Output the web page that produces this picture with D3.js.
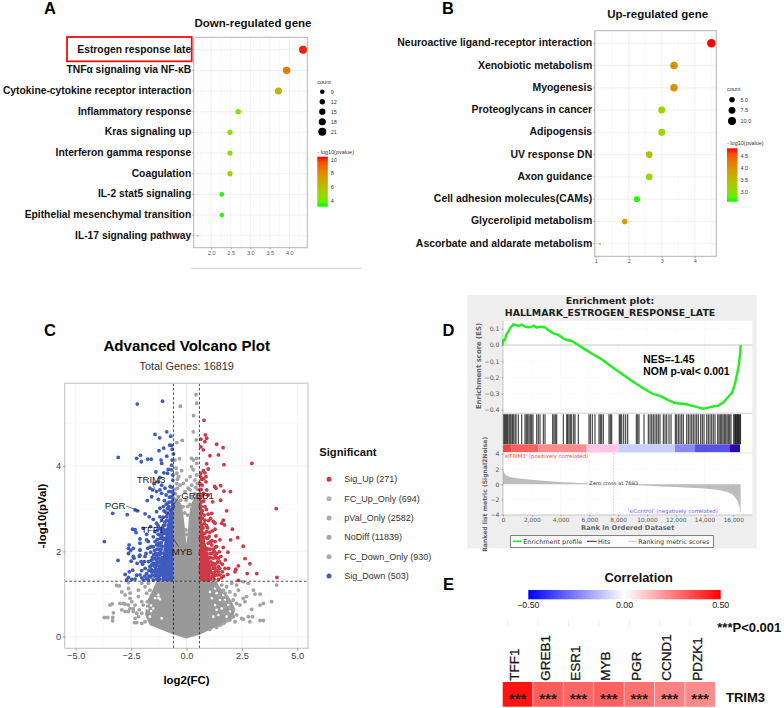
<!DOCTYPE html>
<html>
<head>
	<meta charset="UTF-8">
	<title>TRIM3 enrichment figure</title>
	<script src="https://cdnjs.cloudflare.com/ajax/libs/d3/7.8.5/d3.min.js"></script>
	<style>
html, body {
	margin:0;padding:0;background:#fff;
}
text {
	font-family: "Liberation Sans", Arial, sans-serif;
}
.java text, text.java {
	font-family: "DejaVu Sans", sans-serif;
}
	</style>
</head>
<body>
<script>
// panel A
const downTerms = ['Estrogen response late', 'TNFα signaling via NF-κB', 'Cytokine-cytokine receptor interaction', 'Inflammatory response', 'Kras signaling up', 'Interferon gamma response', 'Coagulation', 'IL-2 stat5 signaling', 'Epithelial mesenchymal transition', 'IL-17 signaling pathway'];
const downRatio = [4.35, 3.93, 3.72, 2.69, 2.48, 2.48, 2.48, 2.27, 2.27, 1.65];
const downCount = [21, 19, 18, 12, 11, 11, 11, 9, 9, 3];
const downLogP = [10.3, 8.6, 6.6, 4.4, 4.5, 4.4, 5.4, 3.2, 3.2, 4.2];
const downCountTicks = [9, 12, 15, 18, 21];
const downLogPTicks = [4, 6, 8, 10];

// panel B
const upTerms = ['Neuroactive ligand-receptor interaction', 'Xenobiotic metabolism', 'Myogenesis', 'Proteoglycans in cancer', 'Adipogensis', 'UV response DN', 'Axon guidance', 'Cell adhesion molecules(CAMs)', 'Glycerolipid metabolism', 'Ascorbate and aldarate metabolism'];
const upRatio = [4.5, 3.37, 3.37, 3.0, 3.0, 2.62, 2.62, 2.25, 1.88, 1.13];
const upCount = [11, 9, 9, 8, 8, 7, 7, 6, 5, 2];
const upLogP = [4.82, 4.0, 4.0, 3.2, 3.2, 3.45, 3.1, 2.62, 3.85, 2.8];
const upCountTicks = [5, 7.5, 10];
const upLogPTicks = [3, 3.5, 4, 4.5];

// panel C as log2(FC), -log10(p)
const sigDown = [[-2.22,5.45],[-1.08,5.52],[-1.42,4.74],[-.89,4.8],[-1.21,4.66],[-.71,4.7],[-3.08,4.2],[-2.08,4.25],[-2.25,4.18],[-2.04,4.1],[-1.75,4.16],[-1.59,4.16],[-1.24,4.36],[-1.03,4.42],[-.76,4.49],[-.67,4.48],[-1.15,4.14],[-.89,4.23],[-.65,4.39],[-.59,4.28],[-1.12,4.06],[-.65,4.14],[-.67,4.02],[-.82,3.92],[-1.38,3.86],[-1.02,3.84],[-.86,3.83],[-.67,3.91],[-.62,3.79],[-1.2,3.73],[-1.65,3.48],[-1.53,3.44],[-1.45,3.59],[-1.27,3.63],[-1.12,3.55],[-1.2,3.44],[-.97,3.48],[-.74,3.52],[-.62,3.67],[-1.35,3.4],[-1.12,3.36],[-.92,3.32],[-.7,3.4],[-1.57,3.28],[-1.77,3.19],[-1.27,3.22],[-1,3.19],[-.77,3.27],[-.59,3.36],[-2.22,2.95],[-2.32,2.97],[-3.33,2.89],[-2.67,2.86],[-1.87,2.88],[-1.68,2.81],[-1.35,2.93],[-1.2,3.01],[-1.05,3.05],[-.86,3.13],[-.67,3.16],[-1.5,2.75],[-1.2,2.81],[-.97,2.93],[-.74,2.97],[-.59,3.05],[-2.43,2.52],[-2.32,2.51],[-2.28,2.44],[-3.71,2.23],[-1.95,2.54],[-1.62,2.58],[-1.35,2.66],[-1.12,2.73],[-.89,2.81],[-.67,2.85],[-1.8,2.4],[-1.42,2.46],[-1.2,2.54],[-.97,2.62],[-.74,2.7],[-2.59,2.15],[-2.62,2.07],[-2.52,2.02],[-2.1,2.19],[-1.72,2.23],[-1.5,2.34],[-1.2,2.38],[-.89,2.5],[-3.09,1.79],[-2.37,1.84],[-2.1,2.03],[-2.1,1.91],[-1.83,1.95],[-1.5,2.11],[-1.27,2.19],[-1.05,2.27],[-2.77,1.46],[-2.62,1.39],[-2.43,1.56],[-2.47,1.34],[-2.32,1.35],[-1.87,1.6],[-2.02,1.55],[-2.1,1.45],[-1.95,1.33],[-1.72,1.76],[-1.57,2.11],[-1.42,2.23],[-1.65,1.64],[-1.5,1.72],[-1.42,1.84],[-1.27,1.95],[-1.2,2.19],[-1.8,1.48],[-1.57,1.52],[-1.38,1.6],[-1.12,1.72],[-.97,1.88],[-1.72,1.33],[-1.5,1.33],[-1.27,1.41],[-1.12,1.52],[-2.62,1.95],[-2.4,2.07],[-2.1,2.29],[-2.1,2.03],[-1.8,2.27],[-1.75,2.07],[-2.4,1.88],[-2.13,1.88],[-1.87,1.88],[-1.9,1.76],[-1.15,2.05],[-1.1,1.85],[-1.05,1.62],[-1.2,1.5],[-1.3,1.75],[-1.3,1.5],[-1.35,1.35],[-1.2,1.35],[-1.4,1.95],[-1.1,2.4],[-1,2.5],[-1.05,2.6],[-.9,2.9],[-.8,3.05],[-1.25,2.05],[-1.45,1.65],[-1.55,1.85],[-1,1.4],[-1.05,1.35],[-1.15,1.65],[-1,2.3],[-1.62,1.4],[-1.55,1.45],[-1.45,1.42],[-1.38,1.48],[-1.3,1.42],[-1.25,1.33],[-1.18,1.44],[-1.6,1.58],[-1.5,1.55],[-1.44,1.52],[-1.34,1.56],[-1.22,1.6],[-1.17,1.55],[-1.58,1.68],[-1.44,1.72],[-1.36,1.68],[-1.25,1.66],[-1.18,1.74],[-1.6,1.78],[-1.52,1.82],[-1.36,1.8],[-1.26,1.84],[-1.18,1.8],[-1.48,1.92],[-1.34,1.9],[-1.2,1.92],[-1.12,1.96],[-1.62,1.98],[-1.44,2.02],[-1.33,2.05],[-1.18,2.02],[-1.1,2.12],[-1.65,2.1],[-1.35,2.15],[-1.24,2.14],[-1.14,2.2],[-1.32,2.28],[-1.18,2.3],[-1.08,2.32],[-1.28,2.4],[-1.12,2.48],[-.98,2.42],[-1.3,2.5],[-1.08,2.55],[-1.28,2.6],[-.98,2.68],[-1.05,2.8],[-.9,2.72],[-.82,2.88],[-1.02,2.95],[-.86,3],[-.78,3.15],[-.92,3.1],[-.68,3.28],[-.8,3.4],[-.66,3.5],[-1.7,1.42],[-1.8,1.36],[-1.88,1.42],[-2.02,1.38],[-2.25,1.44],[-2.58,1.52],[-2.7,1.33],[-1.7,1.55],[-1.98,1.7],[-2.05,1.76],[-2.23,1.72],[-2.5,1.77]];
const sigUp = [[.79,5.07],[.85,4.73],[.91,4.65],[.65,4.63],[.83,4.57],[1.36,4.51],[1.65,4.43],[.65,4.45],[.76,4.38],[1.44,4.26],[1.06,4.24],[1.69,4.03],[2.95,4.06],[.91,4.05],[.98,3.93],[.76,3.89],[.64,3.83],[.83,3.84],[.88,3.75],[.68,3.69],[.61,3.59],[.88,3.63],[1.27,3.52],[1.33,3.48],[1.54,3.54],[1.69,3.41],[1.98,3.4],[.91,3.44],[.61,3.44],[.76,3.36],[.98,3.32],[1.18,3.16],[1.54,3.2],[.68,3.16],[.61,3.05],[.83,3.05],[1.81,2.95],[4.05,3],[1.14,2.89],[.98,2.87],[.68,2.89],[.61,2.77],[1.09,2.77],[1.21,2.7],[.83,2.73],[1.66,2.73],[1.59,2.66],[1.71,2.62],[1.29,2.66],[.68,2.62],[2.07,2.52],[1.29,2.52],[1.18,2.48],[.91,2.46],[.68,2.46],[1.33,2.36],[2.31,2.32],[1.99,2.27],[1.51,2.27],[1.29,2.23],[.61,2.3],[.76,2.23],[.98,2.19],[2.56,2.12],[1.66,2.09],[1.36,2.11],[.68,2.11],[.91,2.07],[1.14,2.15],[1.87,1.98],[1.48,1.99],[1.29,1.91],[1.06,1.95],[.76,1.97],[.61,1.95],[2.64,1.83],[1.44,1.84],[1.21,1.84],[.98,1.84],[.68,1.8],[2.86,1.71],[1.74,1.6],[2.34,1.66],[2.23,1.58],[1.44,1.64],[1.21,1.72],[.98,1.72],[.76,1.68],[.61,1.64],[3.17,1.48],[2.74,1.48],[1.86,1.46],[2.19,1.52],[1.51,1.45],[1.29,1.52],[1.06,1.56],[.83,1.56],[.61,1.52],[4.08,1.39],[2.34,1.32],[1.44,1.34],[1.21,1.41],[.91,1.45],[.68,1.41],[.98,1.33],[1.05,1.35],[1.12,1.5],[1.3,1.7],[1.35,1.85],[1.1,1.75],[1.25,2],[1.4,1.75],[.95,2.05],[1.02,2.35],[.9,2.6],[.8,2.85],[1.15,1.95],[1.4,1.45],[.9,1.9],[1.05,2.05],[1.15,2.25],[.72,3.3],[.62,3.25],[1,1.6],[1.2,1.6],[.7,1.75],[1.1,1.35],[1.15,1.42],[1.25,1.35],[1.32,1.44],[1.36,1.56],[1.5,1.6],[1.58,1.38],[1.62,1.52],[1.05,1.66],[1.16,1.68],[1.28,1.62],[1.5,1.75],[1.55,1.88],[1.36,1.95],[1.2,2.05],[1.08,1.85],[1.3,2.1],[1.08,2.22],[.95,2.3],[.85,2.32],[.82,2.42],[1.05,2.45],[.95,2.55],[.75,2.55],[.8,2.65],[1,2.72],[.72,2.78],[.9,2.98],[.72,2.95],[.66,3.05],[.78,3.18],[.66,3.45],[.7,3.55],[.78,3.7],[.64,3.75],[1.22,1.46],[1.45,1.52],[1.68,1.42],[1.75,1.8],[1.62,1.7],[1.9,1.6]];
const notSig = [[.43,5.67],[.46,5.47],[-.28,5.4],[.32,5.18],[.31,4.8],[-.44,4.55],[-.19,4.6],[.44,4.61],[-.32,4.17],[.23,4.18],[.46,4.18],[-.47,3.95],[-.22,3.89],[-.35,3.75],[-.41,3.69],[.23,3.98],[.31,3.91],[.46,4.06],[0,3.67],[.16,3.75],[.46,3.79],[-.14,3.59],[.38,3.67],[-.52,4.14],[.31,4.14],[-.44,3.83],[-.29,3.55],[-.44,3.59],[.23,3.55],[.49,3.59],[.08,3.48],[-.41,3.48],[-.07,3.4],[.16,3.44],[-.5,3.35],[-.38,3.28],[-.26,3.2],[-.15,3.05],[.15,3.1],[.25,3.25],[.38,3.35],[.5,3.45],[-.08,2.9],[.05,2.85],[-.03,2.5],[.02,2.4],[-.02,3.2],[.05,3.05],[-.52,3.45],[.55,3.6],[.42,3.5],[-3.15,1.2],[-3.03,1.19],[-2.62,1.27],[-2.92,1.05],[-2.62,1.13],[-2.55,1.02],[-2.77,.98],[-2.85,.78],[-3.35,.77],[-3.45,.74],[-3,.78],[-2.77,.76],[-2.62,.74],[-2.55,.66],[-2.4,.66],[-2.32,.74],[-2.47,.82],[-2.55,.9],[-2.17,.94],[-2.17,1.09],[-2.02,.82],[-1.95,.74],[-2.02,.55],[-2.25,.55],[-2.17,.47],[-2.4,.59],[-3.71,.45],[-3.56,.45],[-3.33,.45],[-3.3,.56],[-3.33,.37],[-2.35,.33],[-2.25,.33],[-2.02,.31],[-1.87,.35],[-1.72,1.25],[-1.87,1.17],[-2.02,1.25],[-1.65,1.09],[-1.8,1.02],[-1.77,.82],[-2.32,.43],[-2.62,.59],[-2.77,.59],[-2.92,.63],[-2.13,.63],[3.84,.82],[4.07,1.21],[3.47,.78],[3.32,.74],[3.32,1],[3.02,1.09],[3.09,1],[2.71,.94],[2.56,.9],[2.79,1.25],[2.56,1.29],[2.64,.82],[2.41,.74],[2.26,.78],[2.11,.86],[1.96,.82],[2.19,.98],[2.34,1.09],[1.96,1.05],[1.81,1.17],[2.04,1.25],[2.26,1.21],[1.66,1.09],[2.94,.64],[2.49,.43],[2.56,.41],[2.79,.47],[2.98,.47],[2.86,.35],[3.32,.38],[3.47,.38],[2.11,.63],[1.89,.55],[1.81,.39],[1.96,.39],[2.19,.35],[1.66,.31],[1.51,.27],[1.36,.22],[2.26,.51],[1.74,.7],[1.96,.7],[2.11,.47],[1.66,.55],[1.81,.94],[1.59,1.21],[1.36,1.17],[1.44,.94],[1.66,.82],[1.06,.17],[1.74,1.02]];
// outlines of the parts too dense to tell single genes apart, and the gaps left in them
const massLower = [[-1.35,1.3],[-1.57,1.05],[-1.8,.82],[-1.87,.51],[-1.65,.27],[-.59,.05],[0,-.04],[.61,.05],[1.21,.2],[1.66,.27],[2.11,.43],[2.19,.66],[1.96,.9],[1.66,1.05],[1.44,1.21],[1.36,1.3]];
const massGaps = [[-1.27,.91],[-1.2,.88],[-1.5,.66],[-1.6,.73],[-1.6,.6],[-1.27,.98],[-1.77,.66],[-1.77,.78],[-1.65,.47],[-1.12,.43],[-1.42,.9],[1.29,1.13],[1.36,1.02],[1.51,.86],[1.59,.66],[1.29,.74],[1.44,.51],[1.66,.98],[1.89,.74],[1.96,.59],[1.36,.63],[1.81,.47],[1.21,.47],[1.74,.86],[1.06,1.05],[1.14,.9]];
const massUpper = [[-.585,1.3],[-.585,3.3],[-.48,3.25],[-.36,3.2],[-.22,3.1],[-.14,2.85],[-.07,2.55],[0,2.15],[.07,2.55],[.12,2.85],[.2,3.1],[.34,3.25],[.48,3.35],[.585,3.4],[.585,1.3]];
const massDown = [[-.585,1.3],[-1.1,1.3],[-1.15,1.6],[-1.05,2],[-.95,2.4],[-.85,2.7],[-.72,3],[-.65,3.4],[-.585,3.55]];
const massUp = [[.585,1.3],[1.05,1.3],[1.1,1.6],[.98,1.95],[.85,2.2],[.72,2.6],[.7,3],[.6,3.6],[.585,3.6]];
const volcanoTicksX = [-5, -2.5, 0, 2.5, 5];
const volcanoTicksY = [0, 2, 4];
const legendNames = ['Sig_Up (271)', 'FC_Up_Only (694)', 'pVal_Only (2582)', 'NoDiff (11839)', 'FC_Down_Only (930)', 'Sig_Down (503)'];
const legendColors = ['#cd3a46', '#b0b0b0', '#aaaaaa', '#a4a4a4', '#ababab', '#3f5bbd'];
const geneLabels = ['TRIM3', 'PGR', 'GREB1', 'TFF1', 'MYB'];
const geneLabelAt = [[-1.6,3.69],[-3.22,3.07],[.5,3.32],[-1.53,2.52],[-.2,2]];
const geneLinks = [[[-1.55,3.6],[-1.41,3.44]],[[-2.72,3.06],[-2.09,2.94]],[[-.26,3.32],[-.59,3.09]],[[-1.22,2.66],[-.66,3.01]],[[-.36,2.11],[-.59,2.3]]];

// panel D
const esRank = [0,23,139,208,370,486,718,950,1065,1297,1529,1760,1992,2154,2339,2571,2918,3150,3497,3845,4192,4424,4771,5234,5697,6161,6855,7550,8245,8939,9634,10329,11024,11487,11951,12645,13108,13572,13919,14266,14498,14961,15309,15656,15934,16119,16351,16466,16513];
const esScore = [0,.031,.031,.062,.082,.103,.128,.123,.117,.126,.113,.109,.113,.119,.107,.113,.109,.093,.072,.062,.041,.031,.025,0,-.027,-.053,-.088,-.134,-.177,-.22,-.261,-.298,-.319,-.34,-.358,-.364,-.374,-.385,-.393,-.387,-.381,-.374,-.354,-.319,-.292,-.237,-.144,-.062,0];
const hitRanks = [46,116,185,255,324,417,486,556,648,718,834,903,1065,1297,1529,1621,1714,1806,1899,1992,2084,2339,2455,2571,2802,2918,3451,3543,3636,3729,4192,4424,4493,4586,4678,4771,4910,5003,5234,5975,6068,6207,6392,6670,6763,6855,6971,7365,7458,7550,8083,8152,8245,8384,8523,8662,9264,9357,9449,9797,10098,10214,10329,10445,10561,10677,10793,10908,11140,11256,11372,11534,11673,11974,12066,12182,12298,12414,12530,12761,12877,12993,13109,13224,13340,13456,13572,13734,13850,13966,14151,14267,14382,14498,14614,14730,14915,15008,15100,15193,15286,15378,15471,15564,15656,15749,15841,16027,16100,16150,16200,16250,16300,16350,16400,16450,16500];
const bandEnds = [0,602,2455,5813,8014,11950,13340,15772,16466];
const bandColors = ['#e84848','#ff6060','#ff8c8c','#ffc4e6','#ccccff','#8a8aee','#5a50e2','#2a08b0'];
const metricRank = [0,50,200,500,1000,2000,3000,4000,5000,6000,7000,7693,9000,10000,11000,12000,13000,14000,15000,15600,16000,16300,16450,16510];
const metricValue = [2,1.6,1.2,.95,.8,.6,.45,.3,.2,.1,.05,0,-.1,-.2,-.28,-.35,-.45,-.55,-.75,-1,-1.4,-2.2,-3.2,-3.8];
const rankTicks = [0,2000,4000,6000,8000,10000,12000,14000,16000];
const esTicks = [.1,0,-.1,-.2,-.3,-.4];
const metricTicks = [4,2,0,-2,-4];
const gseaLegend = ['Enrichment profile', 'Hits', 'Ranking metric scores'];

// panel E
const corrGenes = ['TFF1', 'GREB1', 'ESR1', 'MYB', 'PGR', 'CCND1', 'PDZK1'];
const corrValues = [.46, .32, .3, .31, .28, .25, .23];
const corrTicks = [-.5, 0, .5];

const svg = d3.select('body').append('svg').attr('width', 784).attr('height', 708).style('display', 'block');

const label = (g, x, y, s, size, opt = {}) => g.append('text')
	.attr('x', x).attr('y', y)
	.attr('dominant-baseline', 'central')
	.attr('text-anchor', opt.anchor || 'start')
	.attr('font-size', size)
	.attr('font-weight', opt.bold ? 700 : 400)
	.attr('fill', opt.fill || '#000')
	.attr('transform', opt.rot ? `rotate(${opt.rot} ${x} ${y})` : null)
	.text(s);

const styleAxis = (g, size, color) => {
	g.select('.domain').remove();
	g.selectAll('text').attr('font-size', size).attr('fill', color);
	g.selectAll('line').attr('stroke', color).attr('stroke-width', .5);
	return g;
};

[['A', 44, 8], ['B', 442, 8], ['C', 44, 329.5], ['D', 442.5, 329.5], ['E', 443, 584]].forEach(d =>
	label(svg, d[1], d[2], d[0], 16.5, {bold: true}));

// dot panels A and B
function dotPanel(o) {
	const g = svg.append('g');
	const x = d3.scaleLinear().domain(o.xDomain).range(o.xRange);
	const y = d3.scalePoint().domain(o.terms).range(o.rowRange);
	const r = d3.scaleLinear().domain(o.countDomain).range(o.rRange);
	const color = d3.scaleLinear().domain(o.colorDomain).range(['#00ff00', '#ff0000']).interpolate(d3.interpolateLab);
	const [x0, x1] = o.xRange, [top, bottom] = o.yRange;

	g.append('g').selectAll('line').data(o.minor).enter().append('line')
		.attr('x1', d => x(d)).attr('x2', d => x(d)).attr('y1', top).attr('y2', bottom)
		.attr('stroke', '#f3f3f3').attr('stroke-width', .5);
	g.append('g').selectAll('line').data(o.xTicks).enter().append('line')
		.attr('x1', d => x(d)).attr('x2', d => x(d)).attr('y1', top).attr('y2', bottom)
		.attr('stroke', '#ececec').attr('stroke-width', .8);
	g.append('g').selectAll('line').data(o.terms).enter().append('line')
		.attr('x1', x0).attr('x2', x1).attr('y1', d => y(d)).attr('y2', d => y(d))
		.attr('stroke', '#ececec').attr('stroke-width', .8);

	g.append('rect').attr('x', x0).attr('y', top).attr('width', x1 - x0).attr('height', bottom - top)
		.attr('fill', 'none').attr('stroke', '#b4b4b4').attr('stroke-width', 1);

	g.append('g').attr('transform', `translate(0,${bottom})`)
		.call(d3.axisBottom(x).tickValues(o.xTicks).tickSize(1.5).tickPadding(1.5).tickFormat(o.xFormat))
		.call(styleAxis, 5.5, '#555');

	g.append('g').selectAll('line').data(o.terms).enter().append('line')
		.attr('x1', x0 - 1.5).attr('x2', x0).attr('y1', d => y(d)).attr('y2', d => y(d))
		.attr('stroke', '#666').attr('stroke-width', .5);
	o.terms.forEach(t => label(g, x0 - 2.5, y(t) - .5, t, o.labelSize, {anchor: 'end', bold: true, fill: '#111'}));

	g.append('g').selectAll('circle').data(o.terms).enter().append('circle')
		.attr('cx', (d, i) => x(o.ratio[i]))
		.attr('cy', d => y(d))
		.attr('r', (d, i) => r(o.count[i]))
		.attr('fill', (d, i) => color(o.logP[i]));

	label(g, o.titleX, o.titleY, o.title, 11.5, {anchor: 'middle', bold: true, fill: '#111'});

	// legends
	label(g, o.legX, o.countTitleY, 'count', 5.5, {fill: '#333'});
	o.countTicks.forEach((c, i) => {
		const cy = o.countY + i * o.countStep;
		g.append('circle').attr('cx', o.legX + 5).attr('cy', cy).attr('r', r(c)).attr('fill', '#000');
		label(g, o.legX + 13.5, cy, o.countFormat(c), 5.5, {fill: '#333'});
	});
	label(g, o.legX, o.barTitleY, '- log10(pvalue)', 5.5, {fill: '#333'});
	const barY = d3.scaleLinear().domain(o.colorDomain).range(o.barRange);
	const grad = svg.append('defs').append('linearGradient').attr('id', o.id).attr('x1', 0).attr('x2', 0).attr('y1', 1).attr('y2', 0);
	d3.range(0, 1.01, .1).forEach(t => grad.append('stop').attr('offset', t)
		.attr('stop-color', color(o.colorDomain[0] + t * (o.colorDomain[1] - o.colorDomain[0]))));
	g.append('rect').attr('x', o.legX).attr('width', 10.5)
		.attr('y', o.barRange[1]).attr('height', o.barRange[0] - o.barRange[1]).attr('fill', `url(#${o.id})`);
	o.logPTicks.forEach(v => label(g, o.legX + 13.5, barY(v), o.logPFormat(v), 5.5, {fill: '#333'}));
}

dotPanel({
	id: 'barA', title: 'Down-regulated gene', titleX: 253, titleY: 22.5, labelSize: 10.3,
	terms: downTerms, ratio: downRatio, count: downCount, logP: downLogP,
	xDomain: [1.55, 4.46], xRange: [193.7, 307.3], yRange: [37.3, 247.7], rowRange: [49.7, 235.7],
	xTicks: [2, 2.5, 3, 3.5, 4], minor: [1.75, 2.25, 2.75, 3.25, 3.75, 4.25], xFormat: d3.format('.1f'),
	countDomain: [3, 9, 21], rRange: [.9, 2.3, 4], colorDomain: [3.12, 10.44], barRange: [206.7, 156.7],
	legX: 317.3, countTitleY: 81.5, countY: 91.7, countStep: 10, barTitleY: 152,
	countTicks: downCountTicks, countFormat: d3.format('d'), logPTicks: downLogPTicks, logPFormat: d3.format('d')
});
dotPanel({
	id: 'barB', title: 'Up-regulated gene', titleX: 657.7, titleY: 14.3, labelSize: 10.45,
	terms: upTerms, ratio: upRatio, count: upCount, logP: upLogP,
	xDomain: [.97, 4.65], xRange: [594.7, 716.3], yRange: [30.7, 256.3], rowRange: [43.3, 243.7],
	xTicks: [1, 2, 3, 4], minor: [1.5, 2.5, 3.5, 4.5], xFormat: d3.format('d'),
	countDomain: [2, 5, 10], rRange: [1, 2.8, 4], colorDomain: [2.6, 4.82], barRange: [201.7, 148.3],
	legX: 727, countTitleY: 88.5, countY: 99.7, countStep: 10.6, barTitleY: 142.7,
	countTicks: upCountTicks, countFormat: d3.format('.1f'), logPTicks: upLogPTicks, logPFormat: d3.format('.1f')
});

svg.append('rect').attr('x', 67).attr('y', 37).attr('width', 124.7).attr('height', 24.3)
	.attr('fill', 'none').attr('stroke', '#f01010').attr('stroke-width', 1.8);
svg.append('line').attr('x1', 190.7).attr('x2', 361.7).attr('y1', 268.3).attr('y2', 268.3)
	.attr('stroke', '#c4c4c4').attr('stroke-width', .8);

// volcano panel C
{
	const g = svg.append('g');
	const x = d3.scaleLinear().domain([-5, 5]).range([75.7, 297.3]);
	const y = d3.scaleLinear().domain([0, 4]).range([636.7, 466]);
	const [x0, x1, top, bottom] = [64.7, 308, 383.3, 648.3];
	const line = d3.line().x(d => x(d[0])).y(d => y(d[1]));

	g.append('g').selectAll('line').data([-3.75, -1.25, 1.25, 3.75]).enter().append('line')
		.attr('x1', d => x(d)).attr('x2', d => x(d)).attr('y1', top).attr('y2', bottom)
		.attr('stroke', '#f4f4f4').attr('stroke-width', .5);
	g.append('g').selectAll('line').data(volcanoTicksX).enter().append('line')
		.attr('x1', d => x(d)).attr('x2', d => x(d)).attr('y1', top).attr('y2', bottom)
		.attr('stroke', '#ececec').attr('stroke-width', .7);
	g.append('g').selectAll('line').data([1, 3, 5]).enter().append('line')
		.attr('x1', x0).attr('x2', x1).attr('y1', d => y(d)).attr('y2', d => y(d))
		.attr('stroke', '#f4f4f4').attr('stroke-width', .5);
	g.append('g').selectAll('line').data(volcanoTicksY).enter().append('line')
		.attr('x1', x0).attr('x2', x1).attr('y1', d => y(d)).attr('y2', d => y(d))
		.attr('stroke', '#ececec').attr('stroke-width', .7);

	[[massLower, '#999'], [massUpper, '#999'], [massDown, '#3f5bbd'], [massUp, '#cd3a46']].forEach(m =>
		g.append('path').attr('d', line(m[0]) + 'Z').attr('fill', m[1]));
	g.append('g').selectAll('circle').data(massGaps).enter().append('circle')
		.attr('cx', d => x(d[0])).attr('cy', d => y(d[1])).attr('r', 1.3).attr('fill', '#fff');
	[[notSig, '#a2a2a2'], [sigDown, '#3f5bbd'], [sigUp, '#cd3a46']].forEach(s =>
		g.append('g').selectAll('circle').data(s[0]).enter().append('circle')
			.attr('cx', d => x(d[0])).attr('cy', d => y(d[1])).attr('r', 1.9).attr('fill', s[1]));

	// thresholds
	[-.585, .585].forEach(v => g.append('line').attr('x1', x(v)).attr('x2', x(v)).attr('y1', top).attr('y2', bottom)
		.attr('stroke', '#222').attr('stroke-width', .8).attr('stroke-dasharray', '2.6 2'));
	g.append('line').attr('x1', x0).attr('x2', x1).attr('y1', y(1.3)).attr('y2', y(1.3))
		.attr('stroke', '#222').attr('stroke-width', .8).attr('stroke-dasharray', '2.6 2');

	g.append('g').selectAll('path').data(geneLinks).enter().append('path')
		.attr('d', line).attr('stroke', '#222').attr('stroke-width', .6).attr('fill', 'none');
	geneLabels.forEach((s, i) => label(g, x(geneLabelAt[i][0]), y(geneLabelAt[i][1]), s, 9.6, {anchor: 'middle', fill: '#222'}));

	g.append('rect').attr('x', x0).attr('y', top).attr('width', x1 - x0).attr('height', bottom - top)
		.attr('fill', 'none').attr('stroke', '#c8c8c8').attr('stroke-width', 1.2);

	g.append('g').attr('transform', `translate(0,${bottom})`)
		.call(d3.axisBottom(x).tickValues(volcanoTicksX).tickSize(2.5).tickPadding(1.5).tickFormat(d3.format('.1f')))
		.call(styleAxis, 9.3, '#444');
	g.append('g').attr('transform', `translate(${x0},0)`)
		.call(d3.axisLeft(y).tickValues(volcanoTicksY).tickSize(2).tickPadding(1.5).tickFormat(d3.format('d')))
		.call(styleAxis, 9.3, '#444');

	label(g, 186.7, 345, 'Advanced Volcano Plot', 15.1, {anchor: 'middle', bold: true});
	label(g, 186.7, 365.7, 'Total Genes: 16819', 10.9, {anchor: 'middle', fill: '#333'});
	label(g, 42, 516, '-log10(pVal)', 11.4, {anchor: 'middle', bold: true, rot: -90});
	label(g, 186.5, 680, 'log2(FC)', 11.4, {anchor: 'middle', bold: true});

	label(g, 319.3, 451.7, 'Significant', 11.2, {bold: true, fill: '#111'});
	legendNames.forEach((s, i) => {
		const cy = 479.3 + i * 19.35;
		g.append('circle').attr('cx', 329).attr('cy', cy).attr('r', 2.5).attr('fill', legendColors[i]);
		label(g, 344.3, cy, s, 9, {fill: '#333'});
	});
}

// GSEA panel D
{
	const g = svg.append('g').attr('class', 'java');
	const x = d3.scaleLinear().domain([0, 16000]).range([503, 733.3]);
	const yEs = d3.scaleLinear().domain([0, .1]).range([345, 328.8]);
	const yMetric = d3.scaleLinear().domain([0, 2]).range([484.3, 469.1]);
	const [x0, x1] = [503, 752.3];

	g.append('rect').attr('x', 467.3).attr('y', 295).attr('width', 289.4).attr('height', 253.3).attr('fill', '#eeeeee');
	label(g, 610, 300.7, 'Enrichment plot:', 9.4, {anchor: 'middle', bold: true, fill: '#222'});
	label(g, 610, 312, 'HALLMARK_ESTROGEN_RESPONSE_LATE', 9.4, {anchor: 'middle', bold: true, fill: '#222'});

	[[320.7, 412.7], [413.7, 451.9], [453.3, 515]].forEach(p =>
		g.append('rect').attr('x', x0).attr('y', p[0]).attr('width', x1 - x0).attr('height', p[1] - p[0]).attr('fill', '#fff'));

	g.append('g').selectAll('line').data(rankTicks).enter().append('line')
		.attr('x1', d => x(d)).attr('x2', d => x(d)).attr('y1', 320.7).attr('y2', 515)
		.attr('stroke', '#e4e4e4').attr('stroke-width', .5).attr('stroke-dasharray', '1 2');
	g.append('g').selectAll('line').data(esTicks).enter().append('line')
		.attr('x1', x0).attr('x2', x1).attr('y1', d => yEs(d)).attr('y2', d => yEs(d))
		.attr('stroke', '#e4e4e4').attr('stroke-width', .5).attr('stroke-dasharray', '1 2');
	g.append('g').selectAll('line').data(metricTicks).enter().append('line')
		.attr('x1', x0).attr('x2', x1).attr('y1', d => yMetric(d)).attr('y2', d => yMetric(d))
		.attr('stroke', '#e4e4e4').attr('stroke-width', .5).attr('stroke-dasharray', '1 2');

	// enrichment score
	g.append('line').attr('x1', x0).attr('x2', x1).attr('y1', yEs(0)).attr('y2', yEs(0)).attr('stroke', '#bbb').attr('stroke-width', .8);
	g.append('path').datum(esRank)
		.attr('d', d3.line().x(d => x(d)).y((d, i) => yEs(esScore[i])))
		.attr('fill', 'none').attr('stroke', '#22ee22').attr('stroke-width', 2.4);
	label(g, 643.3, 359, 'NES=-1.45', 10.4, {bold: true}).style('font-family', '"Liberation Sans"');
	label(g, 643.3, 371.3, 'NOM p-val< 0.001', 10.4, {bold: true}).style('font-family', '"Liberation Sans"');

	// hits and phenotype band
	g.append('g').selectAll('line').data(hitRanks).enter().append('line')
		.attr('x1', d => x(d)).attr('x2', d => x(d)).attr('y1', 414.3).attr('y2', 444.3)
		.attr('stroke', '#000').attr('stroke-width', 1.2).attr('stroke-opacity', .72);
	g.append('g').selectAll('rect').data(bandColors).enter().append('rect')
		.attr('x', (d, i) => x(bandEnds[i]))
		.attr('width', (d, i) => x(bandEnds[i + 1]) - x(bandEnds[i]))
		.attr('y', 444.3).attr('height', 7.8)
		.attr('fill', d => d);
	g.append('line').attr('x1', x0).attr('x2', x1).attr('y1', 413.3).attr('y2', 413.3).attr('stroke', '#ccc').attr('stroke-width', .8);

	// ranked metric
	g.append('path').datum(metricRank)
		.attr('d', d3.area().x(d => x(d)).y0(yMetric(0)).y1((d, i) => yMetric(metricValue[i])))
		.attr('fill', '#bdbdbd');
	g.append('line').attr('x1', x(7693)).attr('x2', x(7693)).attr('y1', 453.3).attr('y2', 515)
		.attr('stroke', '#aaa').attr('stroke-width', .6).attr('stroke-dasharray', '1.5 1.5');
	label(g, x(7693), 483.4, 'Zero cross at 7693', 5.2, {anchor: 'middle', fill: '#444'});
	label(g, 503.3, 455.6, "'siTRIM3' (positively correlated)", 5.4, {fill: '#ff4848'});
	label(g, 627.7, 510.7, "'siControl' (negatively correlated)", 5.4, {fill: '#6464ff'});

	g.append('line').attr('x1', x0).attr('x2', x0).attr('y1', 320.7).attr('y2', 515).attr('stroke', '#999').attr('stroke-width', .5);
	g.append('line').attr('x1', x0).attr('x2', x1).attr('y1', 515).attr('y2', 515).attr('stroke', '#999').attr('stroke-width', .5);

	g.append('g').attr('transform', 'translate(503,0)')
		.call(d3.axisLeft(yEs).tickValues(esTicks).tickSize(1.5).tickPadding(2).tickFormat(d3.format('.1f')))
		.call(styleAxis, 6.2, '#555');
	g.append('g').attr('transform', 'translate(503,0)')
		.call(d3.axisLeft(yMetric).tickValues(metricTicks).tickSize(1.5).tickPadding(2).tickFormat(d3.format('d')))
		.call(styleAxis, 6.2, '#555');
	g.append('g').attr('transform', 'translate(0,515)')
		.call(d3.axisBottom(x).tickValues(rankTicks).tickSize(1.5).tickPadding(1).tickFormat(d3.format(',')))
		.call(styleAxis, 5.8, '#555');

	label(g, 479, 366, 'Enrichment score (ES)', 6.9, {anchor: 'middle', bold: true, fill: '#666', rot: -90});
	label(g, 485, 494.3, 'Ranked list metric (Signal2Noise)', 6.1, {anchor: 'middle', bold: true, fill: '#666', rot: -90});
	label(g, 627.7, 528, 'Rank in Ordered Dataset', 6.7, {anchor: 'middle', bold: true, fill: '#666'});

	g.append('rect').attr('x', 510.7).attr('y', 535.7).attr('width', 202.6).attr('height', 11.6)
		.attr('fill', '#fff').attr('stroke', '#444').attr('stroke-width', .7);
	[[512.7, 521.7, '#22ee22', 1.6, 523.3], [587, 596.7, '#222', 1, 598], [628.3, 636.7, '#ccc', 1, 638.3]].forEach((d, i) => {
		g.append('line').attr('x1', d[0]).attr('x2', d[1]).attr('y1', 541.3).attr('y2', 541.3).attr('stroke', d[2]).attr('stroke-width', d[3]);
		label(g, d[4], 541.5, gseaLegend[i], 6.4, {fill: '#333'});
	});
}

// correlation panel E
{
	const g = svg.append('g');
	const color = d3.scaleLinear().domain([-.5, 0, .5]).range(['#0000ff', '#ffffff', '#ff0000']);
	const barX = d3.scaleLinear().domain([-.5, .5]).range([528.3, 720.7]);
	const x = d3.scaleBand().domain(corrGenes).range([502.7, 715]).paddingInner(.02).paddingOuter(0);

	label(g, 638.7, 577.7, 'Correlation', 12.8, {anchor: 'middle', bold: true, fill: '#111'});
	const grad = svg.append('defs').append('linearGradient').attr('id', 'barE');
	[0, .5, 1].forEach(t => grad.append('stop').attr('offset', t).attr('stop-color', color(t - .5)));
	g.append('rect').attr('x', 528.3).attr('y', 590).attr('width', 192.4).attr('height', 9.3).attr('fill', 'url(#barE)');
	corrTicks.forEach(v => label(g, barX(v), 605, d3.format('.2f')(v), 8.8, {anchor: 'middle', fill: '#222'}));

	g.append('g').selectAll('line').data(corrGenes).enter().append('line')
		.attr('x1', d => x(d) + 5).attr('x2', d => x(d) + 5).attr('y1', 620).attr('y2', 626)
		.attr('stroke', '#eeeeee').attr('stroke-width', 1);

	g.append('g').selectAll('rect').data(corrGenes).enter().append('rect')
		.attr('x', d => x(d)).attr('width', x.bandwidth()).attr('y', 682).attr('height', 24.7)
		.attr('fill', (d, i) => color(corrValues[i]));
	corrGenes.forEach(d => {
		label(g, x(d) + x.bandwidth() / 2, 698, '***', 15, {anchor: 'middle', fill: '#222'}).attr('font-weight', 700);
		const cx = x(d) + x.bandwidth() / 2 - 3, by = 680.7;
		g.append('text').attr('transform', `translate(${cx},${by}) rotate(-90)`)
			.attr('dominant-baseline', 'central').attr('font-size', 13.5).attr('fill', '#111')
			.attr('stroke', '#111').attr('stroke-width', .25).text(d);
	});
	label(g, 717.3, 627.3, '***P<0.001', 13, {bold: true, fill: '#111'});
	label(g, 726, 697.3, 'TRIM3', 13, {bold: true, fill: '#111'});
}
</script>
</body>
</html>
